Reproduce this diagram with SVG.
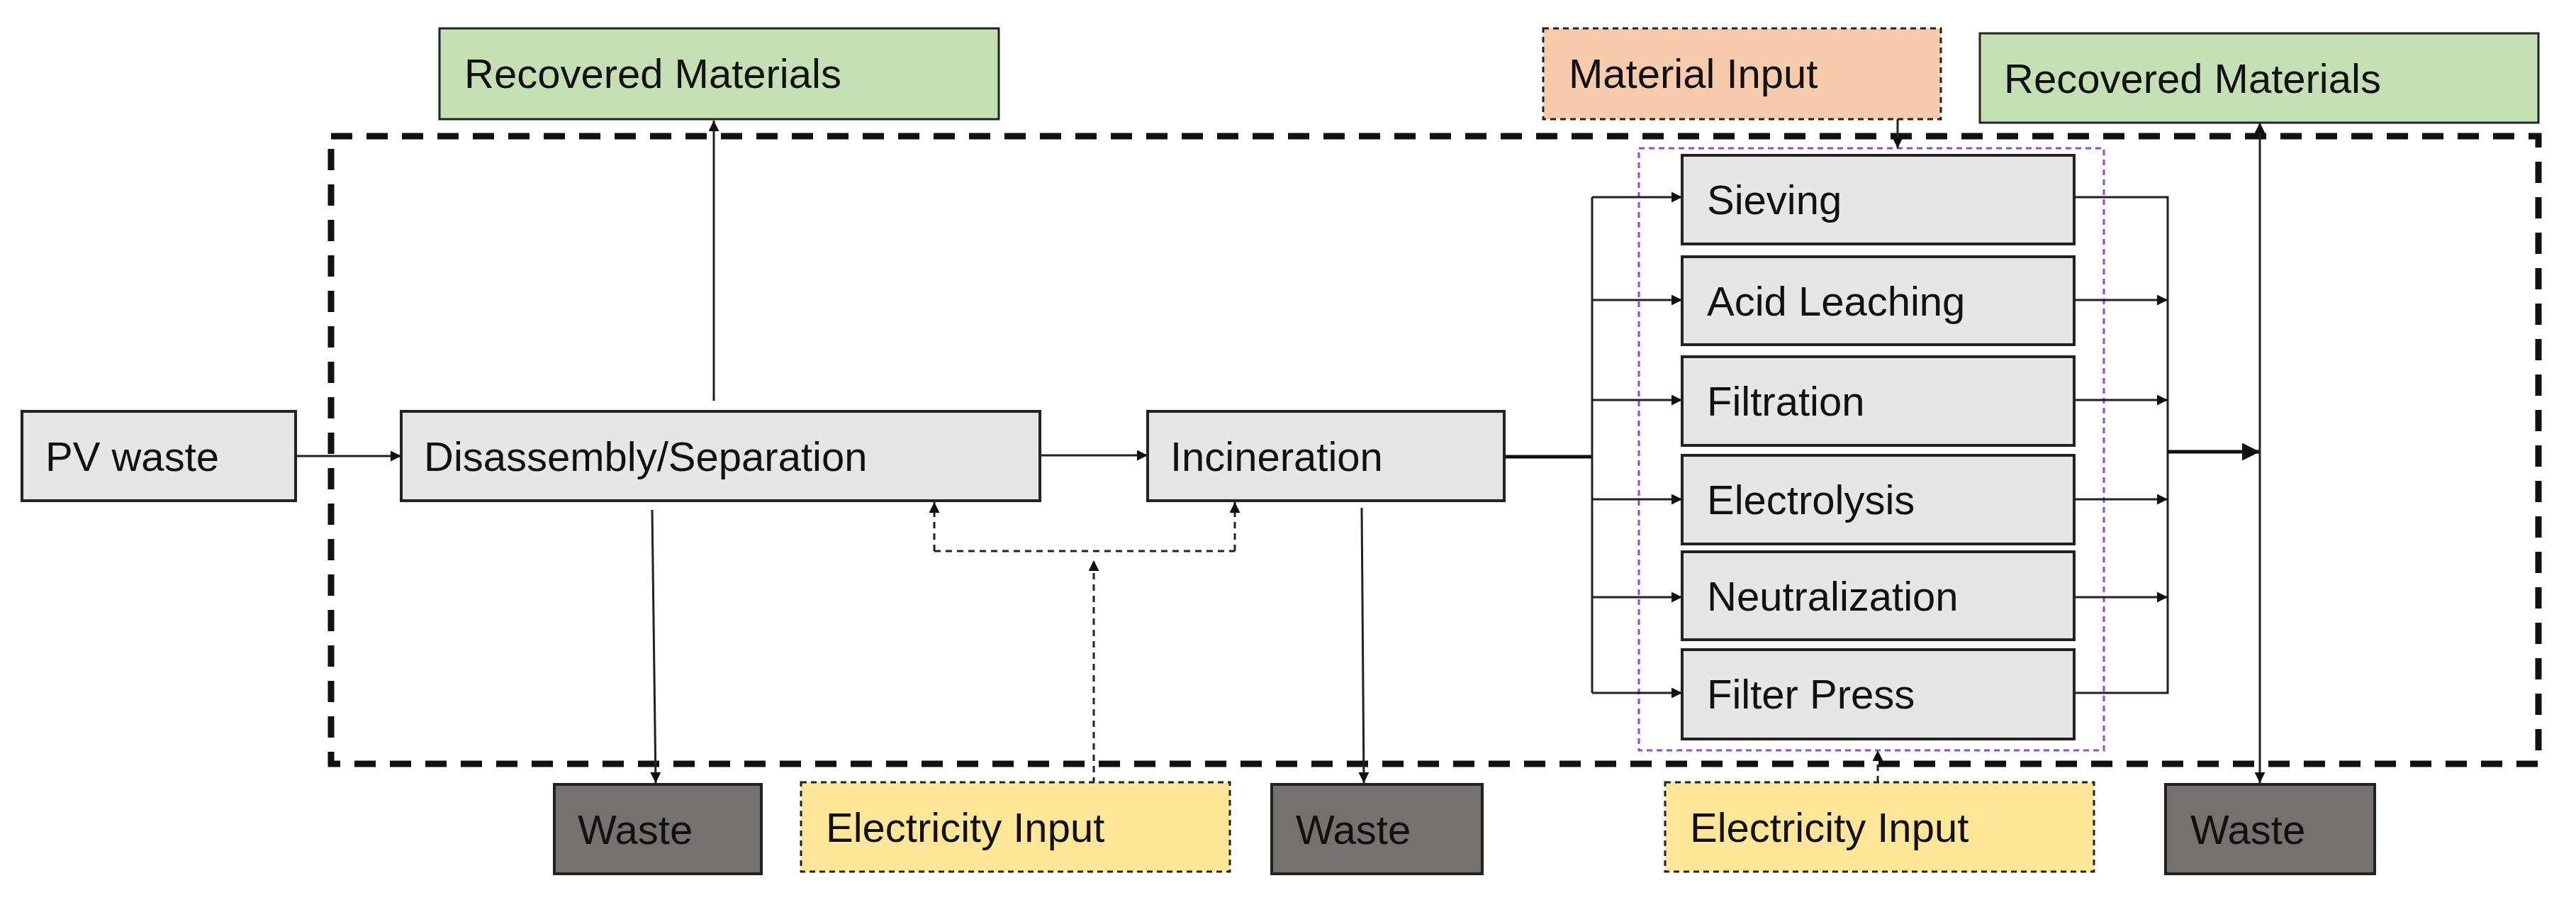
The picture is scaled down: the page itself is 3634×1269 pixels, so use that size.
<svg xmlns="http://www.w3.org/2000/svg" width="3634" height="1269" viewBox="0 0 3634 1269">
<style>
text{font-family:"Liberation Sans",Arial,sans-serif;font-size:58px;fill:#111}
.g{fill:#e7e6e6;stroke:#222;stroke-width:4}
.grn{fill:#c5e0b4;stroke:#222;stroke-width:3}
.org{fill:#f8cbad;stroke:#222;stroke-width:3;stroke-dasharray:8 6}
.yel{fill:#ffe699;stroke:#222;stroke-width:3;stroke-dasharray:8 6}
.w{fill:#767171;stroke:#222;stroke-width:4}
.l{fill:none;stroke:#222;stroke-width:3}
.t{fill:none;stroke:#111;stroke-width:5}
.d{fill:none;stroke:#222;stroke-width:3;stroke-dasharray:9 7}
</style>
<defs>
<marker id="a" viewBox="0 0 10 10" refX="10" refY="5" markerWidth="7" markerHeight="7" markerUnits="userSpaceOnUse" orient="auto-start-reverse"><path d="M0,0L10,5L0,10z" fill="#111"/></marker>
<marker id="b" viewBox="0 0 10 10" refX="10" refY="5" markerWidth="5" markerHeight="5" orient="auto-start-reverse"><path d="M0,0L10,5L0,10z" fill="#111"/></marker>
</defs>
<rect x="467" y="192" width="3114" height="885" fill="none" stroke="#111" stroke-width="9" stroke-dasharray="30 20"/>
<rect x="2312" y="209" width="656" height="849" fill="none" stroke="#8b4fc9" stroke-width="3" stroke-dasharray="8 6"/>
<g id="connectors">
<path class="l" d="M417,643H566" marker-end="url(#b)"/>
<path class="l" d="M1007,565V170" marker-end="url(#b)"/>
<path class="l" d="M1467,642H1619" marker-end="url(#b)"/>
<path class="l" d="M920,719L925,1104" marker-end="url(#b)"/>
<path class="d" d="M1543,1105V790" marker-end="url(#b)"/>
<path class="d" d="M1318,777H1742"/>
<path class="d" d="M1318,777V708" marker-end="url(#b)"/>
<path class="d" d="M1742,777V708" marker-end="url(#b)"/>
<path class="l" d="M1921,716L1924,1104" marker-end="url(#b)"/>
<path class="t" d="M2122,644H2246"/>
<path class="l" d="M2246,278V977"/>
<path class="l" d="M2246,278H2373" marker-end="url(#b)"/>
<path class="l" d="M2246,423H2373" marker-end="url(#b)"/>
<path class="l" d="M2246,564H2373" marker-end="url(#b)"/>
<path class="l" d="M2246,704H2373" marker-end="url(#b)"/>
<path class="l" d="M2246,842H2373" marker-end="url(#b)"/>
<path class="l" d="M2246,977H2373" marker-end="url(#b)"/>
<path class="l" d="M2926,278H3058V977H2926"/>
<path class="l" d="M2926,423H3058" marker-end="url(#b)"/>
<path class="l" d="M2926,564H3058" marker-end="url(#b)"/>
<path class="l" d="M2926,704H3058" marker-end="url(#b)"/>
<path class="l" d="M2926,842H3058" marker-end="url(#b)"/>
<path class="t" d="M3058,637H3188" marker-end="url(#b)"/>
<path class="l" d="M3188,1104V173" marker-start="url(#b)" marker-end="url(#b)"/>
<path class="l" d="M2677,168V209" marker-end="url(#b)"/>
<path class="d" d="M2649,1103V1058" marker-end="url(#b)"/>
</g>
<g id="pv"><rect class="g" x="31" y="580" width="386" height="126"/><text x="64" y="664">PV waste</text></g>
<g id="dis"><rect class="g" x="566" y="580" width="901" height="126"/><text x="598" y="664">Disassembly/Separation</text></g>
<g id="inc"><rect class="g" x="1619" y="580" width="503" height="126"/><text x="1651" y="664">Incineration</text></g>
<g id="rm1"><rect class="grn" x="620" y="40" width="789" height="128"/><text x="655" y="124">Recovered Materials</text></g>
<g id="mi"><rect class="org" x="2177" y="40" width="561" height="128"/><text x="2213" y="124">Material Input</text></g>
<g id="rm2"><rect class="grn" x="2793" y="47" width="788" height="126"/><text x="2827" y="131">Recovered Materials</text></g>
<g id="siev"><rect class="g" x="2373" y="219" width="553" height="125"/><text x="2408" y="302">Sieving</text></g>
<g id="acid"><rect class="g" x="2373" y="362" width="553" height="124"/><text x="2408" y="445">Acid Leaching</text></g>
<g id="filt"><rect class="g" x="2373" y="503" width="553" height="125"/><text x="2408" y="586">Filtration</text></g>
<g id="elec"><rect class="g" x="2373" y="642" width="553" height="125"/><text x="2408" y="725">Electrolysis</text></g>
<g id="neut"><rect class="g" x="2373" y="778" width="553" height="124"/><text x="2408" y="861">Neutralization</text></g>
<g id="fp"><rect class="g" x="2373" y="916" width="553" height="126"/><text x="2408" y="999">Filter Press</text></g>
<g id="w1"><rect class="w" x="782" y="1106" width="292" height="126"/><text x="815" y="1190">Waste</text></g>
<g id="e1"><rect class="yel" x="1130" y="1103" width="605" height="126"/><text x="1165" y="1187">Electricity Input</text></g>
<g id="w2"><rect class="w" x="1794" y="1106" width="297" height="126"/><text x="1828" y="1190">Waste</text></g>
<g id="e2"><rect class="yel" x="2349" y="1103" width="605" height="126"/><text x="2384" y="1187">Electricity Input</text></g>
<g id="w3"><rect class="w" x="3055" y="1106" width="295" height="126"/><text x="3090" y="1190">Waste</text></g>
</svg>
